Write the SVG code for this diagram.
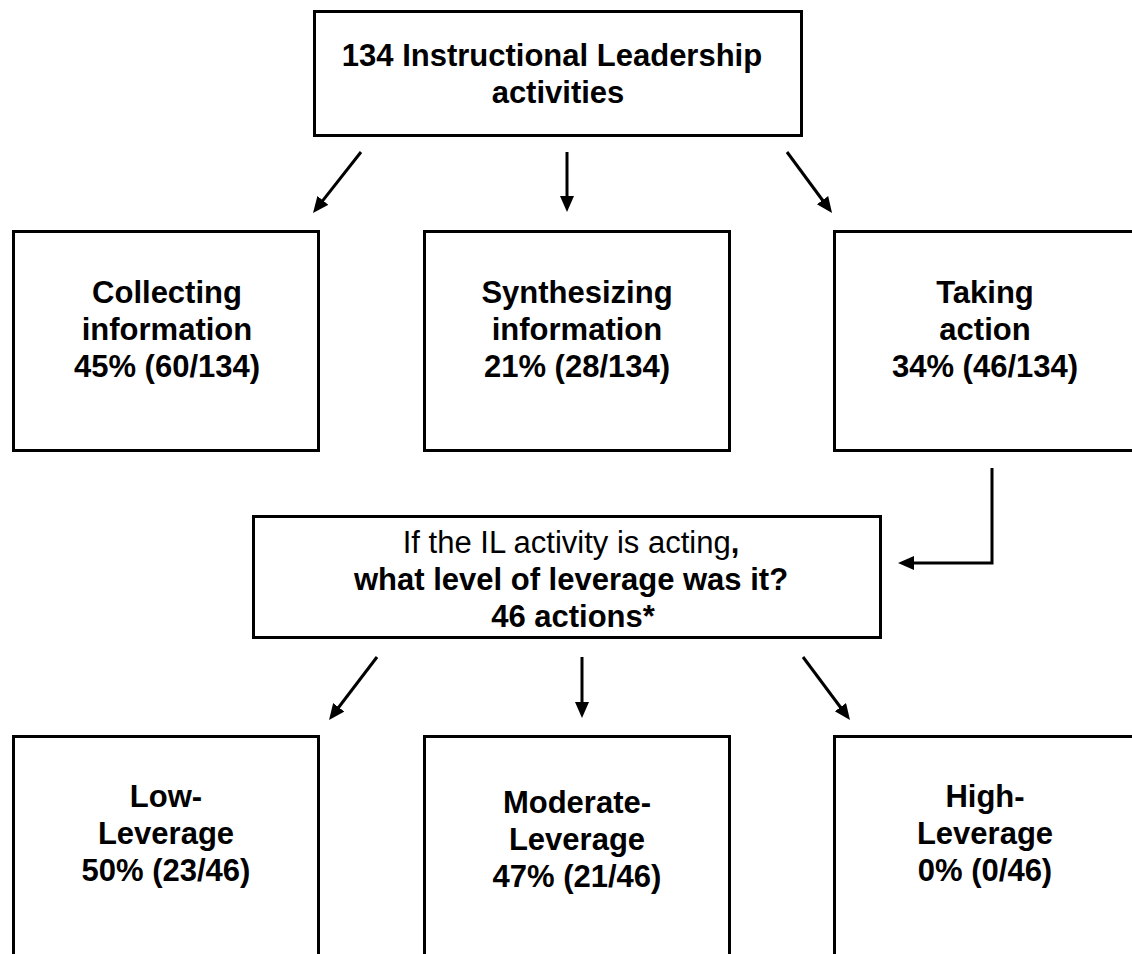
<svg xmlns="http://www.w3.org/2000/svg" width="1132" height="954" viewBox="0 0 1132 954">
  <style>
    .box { fill: #ffffff; stroke: #000000; stroke-width: 3; }
    .t { font-family: "Liberation Sans", Arial, sans-serif; font-size: 31px; fill: #000000; text-anchor: middle; }
    .b { font-weight: bold; }
    .n { font-weight: normal; }
    .conn { fill: none; stroke: #000000; stroke-width: 3; marker-end: url(#arrow); }
  </style>
  <defs>
    <marker id="arrow" markerUnits="userSpaceOnUse" markerWidth="18" markerHeight="16" refX="6" refY="7" orient="auto">
      <path d="M0,0 L16,7 L0,14 z" fill="#000000"/>
    </marker>
  </defs>
  <rect width="1132" height="954" fill="#ffffff"/>

  <g id="node-top">
    <rect class="box" x="314.5" y="11.5" width="487" height="124"/>
    <text class="t b" x="552" y="66">134 Instructional Leadership</text>
    <text class="t b" x="558" y="103">activities</text>
  </g>

  <g id="node-collecting">
    <rect class="box" x="13.5" y="231.5" width="305" height="219"/>
    <text class="t b" x="167" y="303">Collecting</text>
    <text class="t b" x="167" y="340">information</text>
    <text class="t b" x="167" y="377">45% (60/134)</text>
  </g>

  <g id="node-synthesizing">
    <rect class="box" x="424.5" y="231.5" width="305" height="219"/>
    <text class="t b" x="577" y="303">Synthesizing</text>
    <text class="t b" x="577" y="340">information</text>
    <text class="t b" x="577" y="377">21% (28/134)</text>
  </g>

  <g id="node-taking">
    <rect class="box" x="834.5" y="231.5" width="305" height="219"/>
    <text class="t b" x="985" y="303">Taking</text>
    <text class="t b" x="985" y="340">action</text>
    <text class="t b" x="985" y="377">34% (46/134)</text>
  </g>

  <g id="node-leverage-question">
    <rect class="box" x="253.5" y="516.5" width="627" height="121"/>
    <text class="t n" x="571" y="553">If the IL activity is acting<tspan class="b">,</tspan></text>
    <text class="t b" x="571" y="590">what level of leverage was it?</text>
    <text class="t b" x="573" y="627">46 actions*</text>
  </g>

  <g id="node-low">
    <rect class="box" x="13.5" y="736.5" width="305" height="240"/>
    <text class="t b" x="166" y="807">Low-</text>
    <text class="t b" x="166" y="844">Leverage</text>
    <text class="t b" x="166" y="881">50% (23/46)</text>
  </g>

  <g id="node-moderate">
    <rect class="box" x="424.5" y="736.5" width="305" height="240"/>
    <text class="t b" x="577" y="813">Moderate-</text>
    <text class="t b" x="577" y="850">Leverage</text>
    <text class="t b" x="577" y="887">47% (21/46)</text>
  </g>

  <g id="node-high">
    <rect class="box" x="834.5" y="736.5" width="305" height="240"/>
    <text class="t b" x="985" y="807">High-</text>
    <text class="t b" x="985" y="844">Leverage</text>
    <text class="t b" x="985" y="881">0% (0/46)</text>
  </g>

  <g id="connectors">
    <path class="conn" d="M361,152 L319.2,205.1"/>
    <path class="conn" d="M567,152 L567,202"/>
    <path class="conn" d="M787,152 L826.1,205"/>
    <path class="conn" d="M992,468 L992,563 L908,563"/>
    <path class="conn" d="M377,657 L335.1,712"/>
    <path class="conn" d="M582,657 L582,708"/>
    <path class="conn" d="M803,657 L844,712"/>
  </g>
</svg>
